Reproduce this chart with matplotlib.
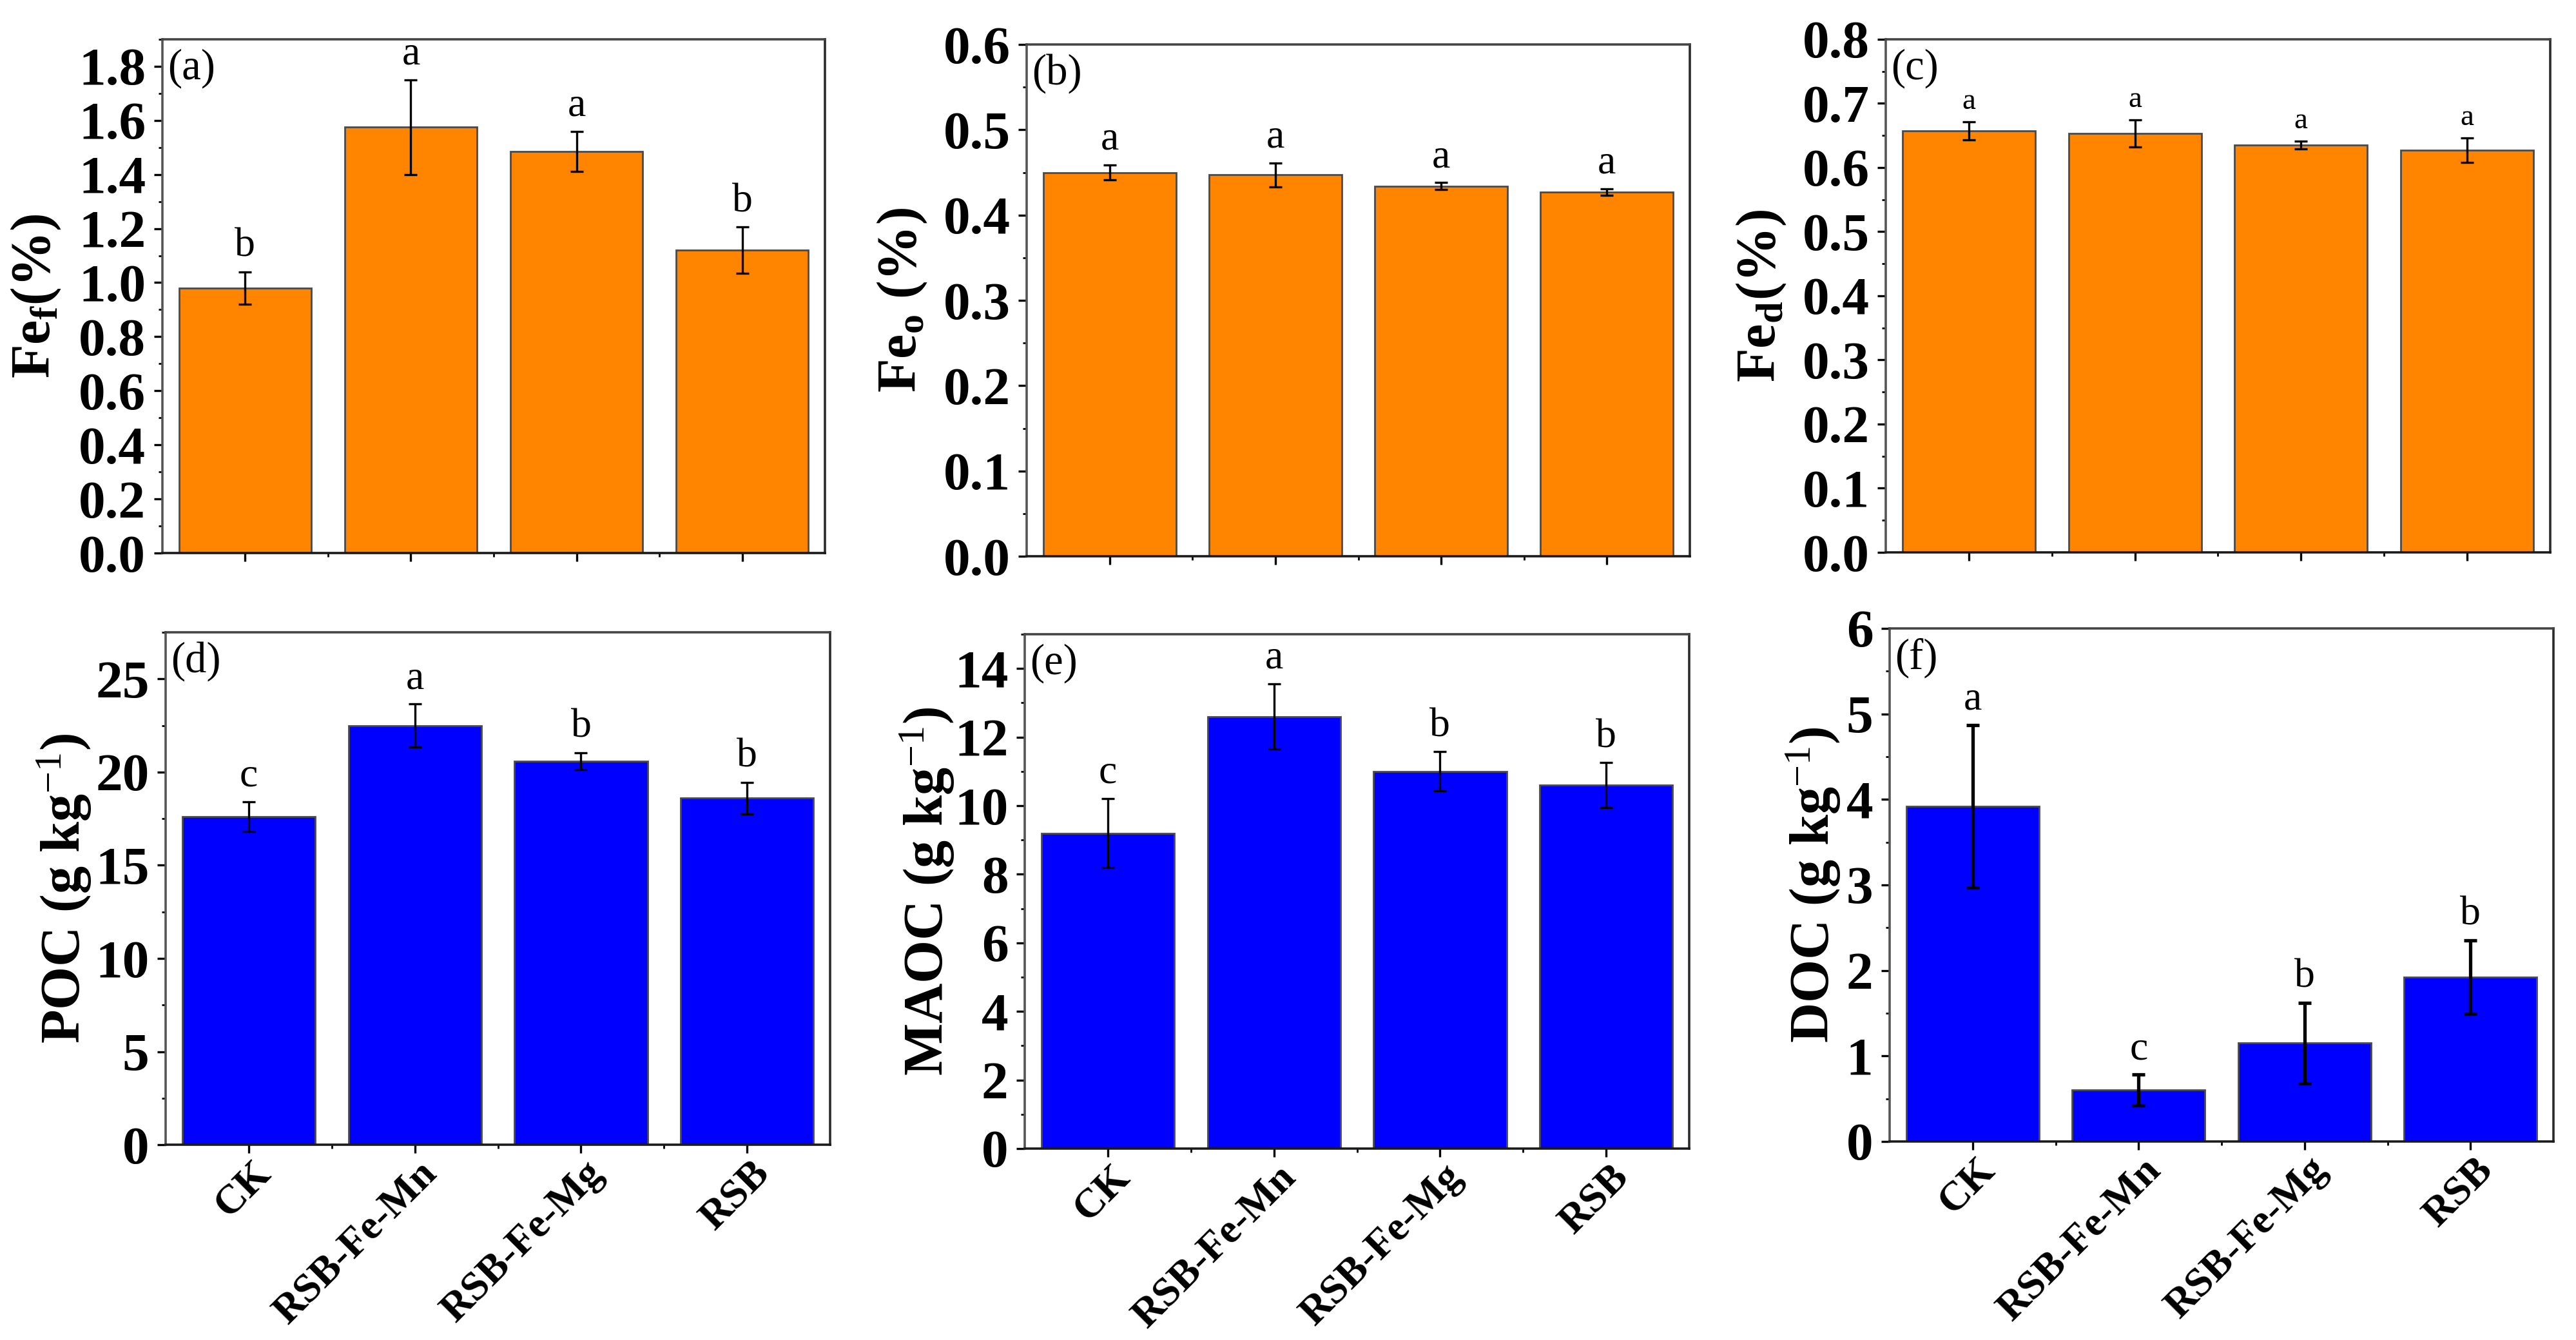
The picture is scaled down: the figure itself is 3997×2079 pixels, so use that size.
import numpy as np
import matplotlib
matplotlib.use("Agg")
import matplotlib.pyplot as plt
from matplotlib.ticker import MultipleLocator, FixedLocator
from matplotlib.transforms import ScaledTranslation

plt.rcParams.update({
    "font.family": ["Liberation Serif", "DejaVu Serif"],
    "mathtext.fontset": "custom",
    "mathtext.rm": "Liberation Serif",
    "mathtext.bf": "Liberation Serif:bold",
    "mathtext.it": "Liberation Serif:italic",
})

# treatments
groups = ["CK", "RSB-Fe-Mn", "RSB-Fe-Mg", "RSB"]

# (a) free iron oxide
fef_mean = [0.98, 1.575, 1.485, 1.12]
fef_err = [0.06, 0.175, 0.075, 0.085]
fef_sig = ["b", "a", "a", "b"]

# (b) amorphous iron oxide
feo_mean = [0.450, 0.447, 0.434, 0.427]
feo_err = [0.009, 0.014, 0.004, 0.004]
feo_sig = ["a", "a", "a", "a"]

# (c) dithionite iron
fed_mean = [0.657, 0.653, 0.635, 0.627]
fed_err = [0.014, 0.021, 0.006, 0.019]
fed_sig = ["a", "a", "a", "a"]

# (d) POC
poc_mean = [17.6, 22.5, 20.6, 18.6]
poc_err = [0.8, 1.15, 0.45, 0.85]
poc_sig = ["c", "a", "b", "b"]

# (e) MAOC
maoc_mean = [9.2, 12.6, 11.0, 10.6]
maoc_err = [1.0, 0.95, 0.57, 0.65]
maoc_sig = ["c", "a", "b", "b"]

# (f) DOC
doc_mean = [3.92, 0.60, 1.15, 1.92]
doc_err = [0.95, 0.18, 0.47, 0.43]
doc_sig = ["a", "c", "b", "b"]

ORANGE = "#FF8400"
BLUE = "#0000FF"

fig = plt.figure(figsize=(19.99, 10.395), dpi=200)

panels = [
    # rect, mean, err, sig, color, ylim, major, minor, ylabel, label x, tag, sig size, x labels, fmt, err lw
    ([0.0630, 0.5873, 0.2572, 0.3834], fef_mean, fef_err, fef_sig, ORANGE, 1.9, 0.2, 0.1,
     r"Fe$_\mathbf{f}$(%)", -0.150, "(a)", 23, False, "{:.1f}", 1.2),
    ([0.3985, 0.5849, 0.2573, 0.3819], feo_mean, feo_err, feo_sig, ORANGE, 0.6, 0.1, 0.05,
     r"Fe$_\mathbf{o}$ (%)", -0.147, "(b)", 23, False, "{:.1f}", 1.2),
    ([0.7319, 0.5878, 0.2578, 0.3829], fed_mean, fed_err, fed_sig, ORANGE, 0.8, 0.1, 0.05,
     r"Fe$_\mathbf{d}$(%)", -0.147, "(c)", 17, False, "{:.1f}", 1.2),
    ([0.0643, 0.1457, 0.2579, 0.3824], poc_mean, poc_err, poc_sig, BLUE, 27.5, 5, 2.5,
     r"POC (g kg$^{-1}$)", -0.109, "(d)", 23, True, "{:.0f}", 1.2),
    ([0.3977, 0.1429, 0.2579, 0.3838], maoc_mean, maoc_err, maoc_sig, BLUE, 15, 2, 1,
     r"MAOC (g kg$^{-1}$)", -0.103, "(e)", 23, True, "{:.0f}", 1.2),
    ([0.7334, 0.1482, 0.2576, 0.3829], doc_mean, doc_err, doc_sig, BLUE, 6, 1, 0.5,
     r"DOC (g kg$^{-1}$)", -0.071, "(f)", 23, True, "{:.0f}", 1.9),
]

x = np.arange(len(groups))
shift = ScaledTranslation(0.13, 0, fig.dpi_scale_trans)

for (rect, mean, err, sig, color, ytop, major, minor, ylabel, lab_x, tag, sig_fs,
     show_x, fmt, elw) in panels:
    ax = fig.add_axes(rect)
    ax.bar(x, mean, width=0.8, color=color, edgecolor="#4a4a4a", linewidth=1.0, zorder=2)
    ax.errorbar(x, mean, yerr=err, fmt="none", ecolor="black", elinewidth=elw,
                capsize=3.5, capthick=elw, zorder=3)
    for xi, m, e, s in zip(x, mean, err, sig):
        ax.text(xi, m + e + ytop * 0.013, s, ha="center", va="bottom",
                fontsize=sig_fs, color="black")
    ax.set_xlim(-0.5, 3.5)
    ax.set_ylim(0, ytop)
    ax.yaxis.set_major_locator(MultipleLocator(major))
    ax.yaxis.set_minor_locator(MultipleLocator(minor))
    ax.xaxis.set_major_locator(FixedLocator(x))
    ax.xaxis.set_minor_locator(FixedLocator([0.5, 1.5, 2.5]))
    ax.set_yticklabels([fmt.format(v) for v in ax.get_yticks()])
    ax.tick_params(axis="y", which="major", direction="out", length=4.7, width=1.2,
                   pad=4.5, labelsize=30)
    ax.tick_params(axis="x", which="major", direction="out", length=4.7, width=1.2,
                   pad=8)
    ax.tick_params(axis="both", which="minor", direction="out", length=2.2, width=1.0)
    for lab in ax.get_yticklabels():
        lab.set_fontweight("bold")
    if show_x:
        ax.set_xticklabels(groups, rotation=45, ha="right", va="center",
                           rotation_mode="anchor", fontsize=23, fontweight="bold")
        for lab in ax.get_xticklabels():
            lab.set_transform(lab.get_transform() + shift)
    else:
        ax.set_xticklabels([])
    ax.set_ylabel(ylabel, fontsize=31, fontweight="bold")
    ax.yaxis.set_label_coords(lab_x, 0.5)
    ax.text(0.008, 0.982, tag, transform=ax.transAxes, ha="left", va="top", fontsize=24)
    spine_cols = {"left": "#555555", "bottom": "#1a1a1a", "top": "#444444", "right": "#2a2a2a"}
    for side, col in spine_cols.items():
        ax.spines[side].set_linewidth(1.3)
        ax.spines[side].set_color(col)

fig.savefig("out.png", dpi=200, facecolor="white")
